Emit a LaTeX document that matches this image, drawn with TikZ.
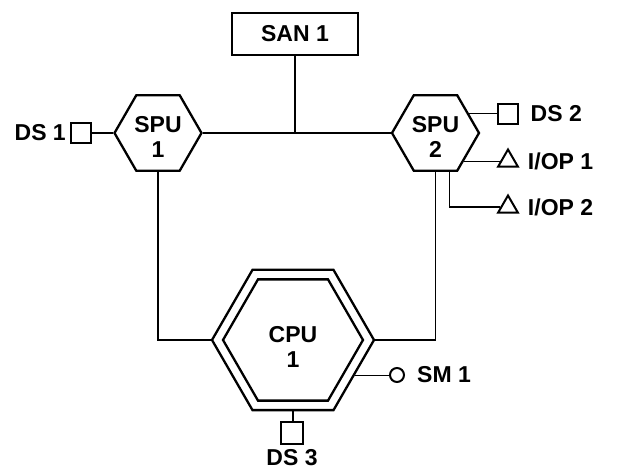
\documentclass[tikz,border=0pt]{standalone}
\usepackage{fontspec}
\setmainfont{Liberation Sans}
\usepackage{tikz}
\usetikzlibrary{positioning,calc,shapes.geometric}
\newcommand{\lbfont}{\fontsize{23}{25}\selectfont\bfseries}

\begin{document}
\begin{tikzpicture}[x=1pt, y=1pt, node distance=12pt]
    \tikzstyle{hexa}=[draw, line width=2.3pt, regular polygon, regular polygon sides=6, inner sep=0pt]
    \tikzstyle{sq}=[draw, line width=2pt, minimum size=20pt, inner sep=0pt]
    \tikzstyle{tri}=[draw, line width=2pt, regular polygon, regular polygon sides=3, minimum size=23pt, inner sep=0pt]
    \tikzstyle{lbl}=[inner sep=0pt, font=\lbfont, align=center]
    \tikzstyle{wire}=[line width=1.7pt]
    \useasboundingbox (0,0) rectangle (622,474);
    % Processing units
    \node[draw, line width=2.2pt, minimum width=126pt, minimum height=42pt, font=\lbfont] (san) at (295,440) {SAN 1};
    \node[hexa, minimum size=87pt, label={[lbl, yshift=-4pt]center:SPU\\1}] (spuA) at (158,341) {};
    \node[hexa, minimum size=87pt, label={[lbl, yshift=-4pt]center:SPU\\2}] (spuB) at (435.5,341) {};
    \node[hexa, minimum size=162pt] (cpuO) at (293,134) {};
    \node[hexa, minimum size=140pt, label={[lbl, yshift=-7pt]center:CPU\\1}] (cpuI) at (293,134) {};
    \draw[wire] (spuA.east) -- (spuB.west);
    \draw[wire] (san.south) -- (san.south |- spuA.east);
    \draw[wire] (spuA.south) |- (cpuO.west);
    \draw[wire] (spuB.south) |- (cpuO.east);
    % Devices on SPU 1 and SPU 2
    \node[sq] (dsA) at (81,341) {};
    \node[lbl, left=4pt of dsA] {DS 1};
    \draw[wire] (dsA.east) -- (spuA.west);
    \node[sq] (dsB) at (507.5,360) {};
    \node[lbl, right=of dsB] {DS 2};
    \draw[wire] (spuB.30) -- (spuB.30 -| dsB.west);
    \node[tri] (ioA) at (508,313) {};
    \node[lbl, right=of ioA] {I/OP 1};
    \draw[wire] (spuB.-45) -- (spuB.-45 -| ioA.west);
    \node[tri] (ioB) at (508,267) {};
    \node[lbl, right=of ioB] {I/OP 2};
    \draw[wire] (spuB.-70) |- (ioB.west);
    % Devices on CPU 1
    \node[draw, circle, line width=2pt, minimum size=14pt, inner sep=0pt] (smA) at (397,99) {};
    \node[lbl, right=of smA] {SM 1};
    \draw[wire] (cpuO.-30) -- (cpuO.-30 -| smA.west);
    \node[sq, minimum size=22pt] (dsC) at (292,41) {};
    \node[lbl, below=4pt of dsC] {DS 3};
    \draw[wire] (cpuO.south) -- (cpuO.south |- dsC.north);
\end{tikzpicture}
\end{document}
